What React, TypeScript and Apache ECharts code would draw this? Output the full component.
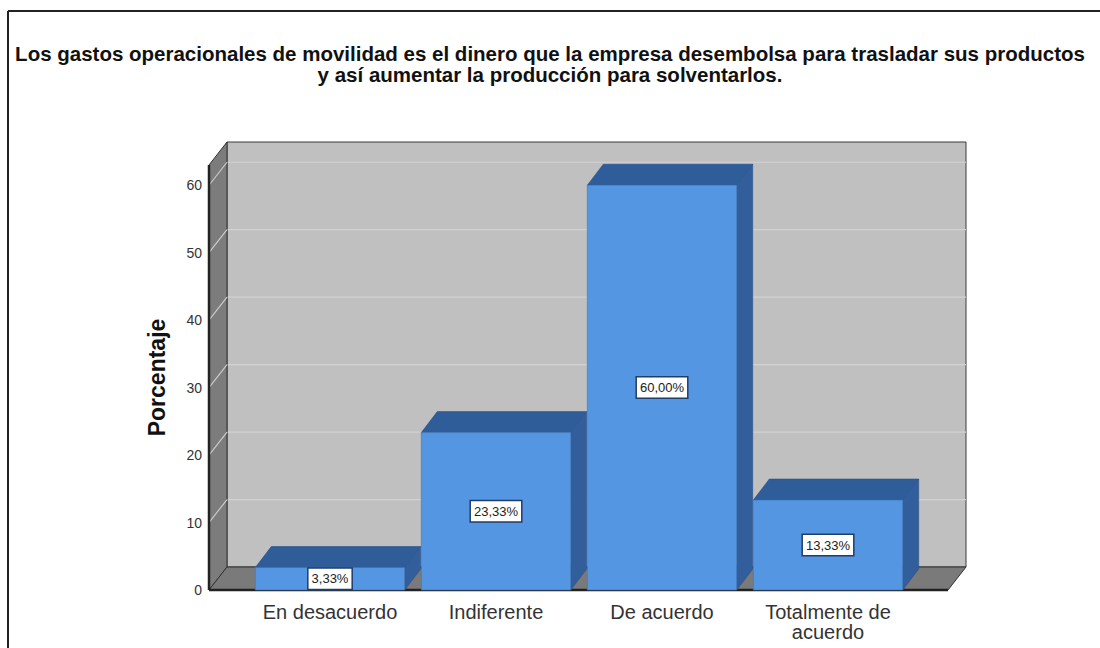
import React, { useEffect, useRef } from "react";
import * as echarts from "echarts";

const titleText =
  "Los gastos operacionales de movilidad es el dinero que la empresa desembolsa para trasladar sus productos\ny así aumentar la producción para solventarlos.";
const categories = ["En desacuerdo", "Indiferente", "De acuerdo", "Totalmente de\nacuerdo"];
const percentages = [3.33, 23.33, 60.0, 13.33];
const yTicks = [0, 10, 20, 30, 40, 50, 60];
const yMax = 63;

const FONT = "'Liberation Sans', Arial, sans-serif";
const WALL_DX = 18;
const WALL_DY = -23;
const BAR_DX = 16;
const BAR_DY = -21;
const PAD_L = 38;
const PAD_R = 37;

export default function App() {
  const ref = useRef<HTMLDivElement>(null);
  useEffect(() => {
    if (!ref.current) return;
    const chart = echarts.init(ref.current, null, { renderer: "svg" });

    const renderBackdrop = (params: any, api: any) => {
      const cs = params.coordSys;
      const x0 = cs.x - PAD_L;
      const x1 = cs.x + cs.width + PAD_R;
      const yb = api.coord([0, 0])[1];
      const yt = cs.y;
      const children: any[] = [];
      children.push({
        type: "rect",
        shape: { x: x0 + WALL_DX, y: yt + WALL_DY, width: x1 - x0, height: yb - yt },
        style: { fill: "#c0c0c0", stroke: "#3a3a3a", lineWidth: 1 },
      });
      yTicks.forEach((v) => {
        if (v === 0) return;
        const y = api.coord([0, v])[1];
        children.push({
          type: "line",
          shape: { x1: x0 + WALL_DX, y1: y + WALL_DY, x2: x1 + WALL_DX, y2: y + WALL_DY },
          style: { stroke: "#d2d2d2", lineWidth: 1.2 },
        });
      });
      children.push({
        type: "polygon",
        shape: {
          points: [
            [x0, yb],
            [x0, yt],
            [x0 + WALL_DX, yt + WALL_DY],
            [x0 + WALL_DX, yb + WALL_DY],
          ],
        },
        style: { fill: "#7c7c7c", stroke: "#333", lineWidth: 1 },
      });
      yTicks.forEach((v) => {
        if (v === 0) return;
        const y = api.coord([0, v])[1];
        children.push({
          type: "line",
          shape: { x1: x0, y1: y, x2: x0 + WALL_DX, y2: y + WALL_DY },
          style: { stroke: "#cfcfcf", lineWidth: 1.1 },
        });
      });
      children.push({
        type: "polygon",
        shape: {
          points: [
            [x0, yb],
            [x1, yb],
            [x1 + WALL_DX, yb + WALL_DY],
            [x0 + WALL_DX, yb + WALL_DY],
          ],
        },
        style: { fill: "#7a7a7a", stroke: "#333", lineWidth: 1 },
      });
      children.push({
        type: "line",
        shape: { x1: x0, y1: yb, x2: x1, y2: yb },
        style: { stroke: "#222", lineWidth: 2.5 },
      });
      children.push({
        type: "line",
        shape: { x1: x0, y1: yb, x2: x0, y2: yt },
        style: { stroke: "#222", lineWidth: 2.5 },
      });
      return { type: "group", children };
    };

    const renderBar = (params: any, api: any) => {
      const idx = api.value(0);
      const val = api.value(1);
      const top = api.coord([idx, val]);
      const base = api.coord([idx, 0]);
      const w = api.size([1, 0])[0] * 0.9;
      const xl = top[0] - w / 2;
      const xr = top[0] + w / 2;
      const yt = top[1];
      const yb = base[1];
      const label = val.toFixed(2).replace(".", ",") + "%";
      return {
        type: "group",
        children: [
          {
            type: "polygon",
            shape: {
              points: [
                [xl, yt],
                [xr, yt],
                [xr + BAR_DX, yt + BAR_DY],
                [xl + BAR_DX, yt + BAR_DY],
              ],
            },
            style: { fill: "#2f5d9a", stroke: "#29508a", lineWidth: 0.6 },
          },
          {
            type: "polygon",
            shape: {
              points: [
                [xr, yt],
                [xr + BAR_DX, yt + BAR_DY],
                [xr + BAR_DX, yb + BAR_DY],
                [xr, yb],
              ],
            },
            style: { fill: "#325f9c", stroke: "#29508a", lineWidth: 0.6 },
          },
          {
            type: "rect",
            shape: { x: xl, y: yt, width: w, height: yb - yt },
            style: { fill: "#5596e2", stroke: "#3d74b8", lineWidth: 0.6 },
          },
          {
            type: "text",
            style: {
              text: label,
              x: (xl + xr) / 2,
              y: (yt + yb) / 2,
              align: "center",
              verticalAlign: "middle",
              fill: "#222",
              font: "13px " + FONT,
              backgroundColor: "#ffffff",
              borderColor: "#1f3d6b",
              borderWidth: 1.5,
              padding: [4, 3, 3, 3],
            },
          },
        ],
      };
    };

    chart.setOption({
      animation: false,
      backgroundColor: "#ffffff",
      title: {
        text: titleText,
        left: "center",
        top: 38,
        textStyle: {
          fontFamily: FONT,
          fontSize: 20.5,
          fontWeight: "bold",
          color: "#111",
          lineHeight: 21,
          align: "center",
        },
      },
      grid: { left: 247, right: 189, top: 165, bottom: 58, containLabel: false },
      xAxis: {
        type: "category",
        data: categories,
        axisLine: { show: false },
        axisTick: { show: false },
        axisLabel: {
          fontFamily: FONT,
          fontSize: 20,
          color: "#333",
          margin: 12,
          lineHeight: 20,
          interval: 0,
        },
      },
      yAxis: {
        type: "value",
        min: 0,
        max: yMax,
        interval: 10,
        name: "Porcentaje",
        nameLocation: "middle",
        nameGap: 79,
        nameTextStyle: { fontFamily: FONT, fontSize: 23, fontWeight: "bold", color: "#111" },
        axisLine: { show: false },
        axisTick: { show: false },
        splitLine: { show: false },
        axisLabel: {
          fontFamily: FONT,
          fontSize: 14,
          color: "#333",
          margin: 45,
          formatter: (v: number) => (yTicks.includes(v) ? String(v) : ""),
        },
      },
      graphic: [
        {
          type: "line",
          shape: { x1: 8, y1: 11, x2: 1100, y2: 11 },
          style: { stroke: "#222", lineWidth: 2 },
        },
        {
          type: "line",
          shape: { x1: 8, y1: 11, x2: 8, y2: 648 },
          style: { stroke: "#222", lineWidth: 2 },
        },
      ],
      series: [
        {
          type: "custom",
          renderItem: renderBackdrop,
          data: [[0, 0]],
          silent: true,
          z: 1,
        },
        {
          type: "custom",
          renderItem: renderBar,
          data: percentages.map((v, i) => [i, v]),
          z: 2,
        },
      ],
    });
    return () => chart.dispose();
  }, []);
  return (
    <div
      ref={ref}
      style={{ position: "absolute", left: 0, top: 0, width: 1100, height: 648, background: "#fff" }}
    />
  );
}
